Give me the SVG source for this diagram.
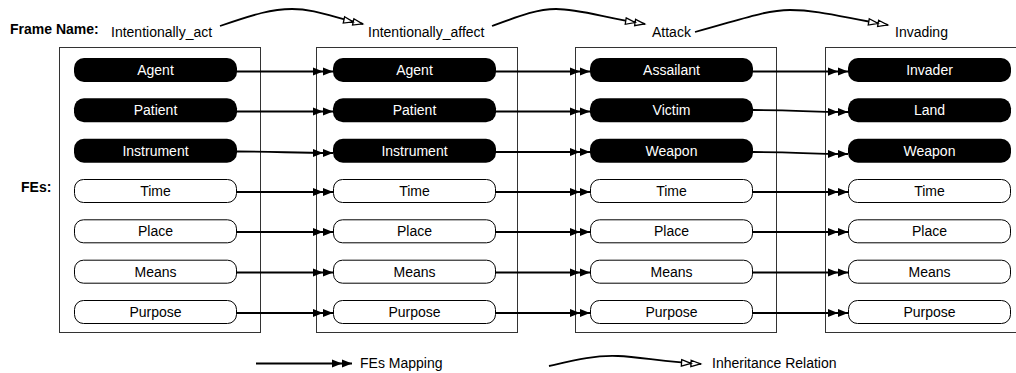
<svg xmlns="http://www.w3.org/2000/svg" width="1016" height="373" viewBox="0 0 1016 373">
  <style>
    text { font-family: "Liberation Sans", Arial, Helvetica, sans-serif; font-size: 14px; fill: #000; }
    .bold { font-weight: bold; }
    .frame { fill: none; stroke: #333; stroke-width: 1; }
    .core { fill: #000; }
    .core-label { fill: #fff; text-anchor: middle; }
    .plain { fill: #fff; stroke: #000; stroke-width: 1; }
    .plain-label { text-anchor: middle; }
    .map { fill: none; stroke: #000; stroke-width: 1.8; marker-end: url(#dblFilled); }
    .inherit { fill: none; stroke: #000; stroke-width: 1.8; marker-end: url(#dblOpen); }
  </style>
  <defs>
    <marker id="dblFilled" markerUnits="userSpaceOnUse" viewBox="0 0 20 8" markerWidth="20" markerHeight="8" refX="20" refY="4" orient="auto" overflow="visible">
      <path d="M0,0 L10,4 L0,8 Z M10,0 L20,4 L10,8 Z" fill="#000"/>
    </marker>
    <marker id="dblOpen" markerUnits="userSpaceOnUse" viewBox="0 0 20 8" markerWidth="20" markerHeight="8" refX="20" refY="4" orient="auto" overflow="visible">
      <path d="M0.5,0.8 L10,4 L0.5,7.2 Z M10,0.8 L19.5,4 L10,7.2 Z" fill="#fff" stroke="#000" stroke-width="1.3" stroke-linejoin="miter"/>
    </marker>
  </defs>

  <rect width="1016" height="373" fill="#fff"/>

  <!-- headings -->
  <text class="bold" x="10" y="34">Frame Name:</text>
  <text class="bold" x="21" y="192">FEs:</text>

  <!-- frame: Intentionally_act -->
  <g id="frame-intentionally-act">
    <text x="111" y="37">Intentionally_act</text>
    <rect class="frame" x="59.5" y="47.5" width="201" height="285"/>
    <g id="ia-agent"><rect class="core" x="74" y="58" width="163" height="24" rx="10"/><text class="core-label" x="155.5" y="75">Agent</text></g>
    <g id="ia-patient"><rect class="core" x="74" y="98.3" width="163" height="24" rx="10"/><text class="core-label" x="155.5" y="115.3">Patient</text></g>
    <g id="ia-instrument"><rect class="core" x="74" y="138.7" width="163" height="24" rx="10"/><text class="core-label" x="155.5" y="155.7">Instrument</text></g>
    <g id="ia-time"><rect class="plain" x="74.5" y="179.5" width="162" height="23" rx="9"/><text class="plain-label" x="155.5" y="196">Time</text></g>
    <g id="ia-place"><rect class="plain" x="74.5" y="219.8" width="162" height="23" rx="9"/><text class="plain-label" x="155.5" y="236.3">Place</text></g>
    <g id="ia-means"><rect class="plain" x="74.5" y="260.2" width="162" height="23" rx="9"/><text class="plain-label" x="155.5" y="276.7">Means</text></g>
    <g id="ia-purpose"><rect class="plain" x="74.5" y="300.5" width="162" height="23" rx="9"/><text class="plain-label" x="155.5" y="317">Purpose</text></g>
  </g>

  <!-- frame: Intentionally_affect -->
  <g id="frame-intentionally-affect">
    <text x="368" y="37">Intentionally_affect</text>
    <rect class="frame" x="316.5" y="47.5" width="201" height="285"/>
    <g id="iaf-agent"><rect class="core" x="333" y="58" width="163" height="24" rx="10"/><text class="core-label" x="414.5" y="75">Agent</text></g>
    <g id="iaf-patient"><rect class="core" x="333" y="98.3" width="163" height="24" rx="10"/><text class="core-label" x="414.5" y="115.3">Patient</text></g>
    <g id="iaf-instrument"><rect class="core" x="333" y="138.7" width="163" height="24" rx="10"/><text class="core-label" x="414.5" y="155.7">Instrument</text></g>
    <g id="iaf-time"><rect class="plain" x="333.5" y="179.5" width="162" height="23" rx="9"/><text class="plain-label" x="414.5" y="196">Time</text></g>
    <g id="iaf-place"><rect class="plain" x="333.5" y="219.8" width="162" height="23" rx="9"/><text class="plain-label" x="414.5" y="236.3">Place</text></g>
    <g id="iaf-means"><rect class="plain" x="333.5" y="260.2" width="162" height="23" rx="9"/><text class="plain-label" x="414.5" y="276.7">Means</text></g>
    <g id="iaf-purpose"><rect class="plain" x="333.5" y="300.5" width="162" height="23" rx="9"/><text class="plain-label" x="414.5" y="317">Purpose</text></g>
  </g>

  <!-- frame: Attack -->
  <g id="frame-attack">
    <text x="652" y="37">Attack</text>
    <rect class="frame" x="575.5" y="47.5" width="201" height="285"/>
    <g id="at-assailant"><rect class="core" x="590" y="58" width="163" height="24" rx="10"/><text class="core-label" x="671.5" y="75">Assailant</text></g>
    <g id="at-victim"><rect class="core" x="590" y="98.3" width="163" height="24" rx="10"/><text class="core-label" x="671.5" y="115.3">Victim</text></g>
    <g id="at-weapon"><rect class="core" x="590" y="138.7" width="163" height="24" rx="10"/><text class="core-label" x="671.5" y="155.7">Weapon</text></g>
    <g id="at-time"><rect class="plain" x="590.5" y="179.5" width="162" height="23" rx="9"/><text class="plain-label" x="671.5" y="196">Time</text></g>
    <g id="at-place"><rect class="plain" x="590.5" y="219.8" width="162" height="23" rx="9"/><text class="plain-label" x="671.5" y="236.3">Place</text></g>
    <g id="at-means"><rect class="plain" x="590.5" y="260.2" width="162" height="23" rx="9"/><text class="plain-label" x="671.5" y="276.7">Means</text></g>
    <g id="at-purpose"><rect class="plain" x="590.5" y="300.5" width="162" height="23" rx="9"/><text class="plain-label" x="671.5" y="317">Purpose</text></g>
  </g>

  <!-- frame: Invading -->
  <g id="frame-invading">
    <text x="895" y="37">Invading</text>
    <rect class="frame" x="825.5" y="47.5" width="220" height="285"/>
    <g id="in-invader"><rect class="core" x="848" y="58" width="163" height="24" rx="10"/><text class="core-label" x="929.5" y="75">Invader</text></g>
    <g id="in-land"><rect class="core" x="848" y="98.3" width="163" height="24" rx="10"/><text class="core-label" x="929.5" y="115.3">Land</text></g>
    <g id="in-weapon"><rect class="core" x="848" y="138.7" width="163" height="24" rx="10"/><text class="core-label" x="929.5" y="155.7">Weapon</text></g>
    <g id="in-time"><rect class="plain" x="848.5" y="179.5" width="162" height="23" rx="9"/><text class="plain-label" x="929.5" y="196">Time</text></g>
    <g id="in-place"><rect class="plain" x="848.5" y="219.8" width="162" height="23" rx="9"/><text class="plain-label" x="929.5" y="236.3">Place</text></g>
    <g id="in-means"><rect class="plain" x="848.5" y="260.2" width="162" height="23" rx="9"/><text class="plain-label" x="929.5" y="276.7">Means</text></g>
    <g id="in-purpose"><rect class="plain" x="848.5" y="300.5" width="162" height="23" rx="9"/><text class="plain-label" x="929.5" y="317">Purpose</text></g>
  </g>

  <!-- connectors -->
  <g id="connectors">
    <!-- inheritance between frames -->
    <path class="inherit" d="M220,26 C255,14 272,9 292,9 C315,9 335,18 363,24"/>
    <path class="inherit" d="M492,26 C522,15 538,9 556,9 C580,9 605,18 645,24"/>
    <path class="inherit" d="M695,32 C740,20 765,10 790,10 C820,10 845,18 888,25"/>

    <!-- FE mappings: Intentionally_act -> Intentionally_affect -->
    <path class="map" d="M237,71.5 H333"/>
    <path class="map" d="M237,111.5 H333"/>
    <path class="map" d="M237,151.5 C280,151.5 290,153 333,153"/>
    <path class="map" d="M237,192 H333"/>
    <path class="map" d="M237,232 H333"/>
    <path class="map" d="M237,272.5 H333"/>
    <path class="map" d="M237,313 H333"/>

    <!-- Intentionally_affect -> Attack -->
    <path class="map" d="M496,71.5 H590"/>
    <path class="map" d="M496,111.5 H590"/>
    <path class="map" d="M496,152 H590"/>
    <path class="map" d="M496,192 H590"/>
    <path class="map" d="M496,232 H590"/>
    <path class="map" d="M496,272.5 H590"/>
    <path class="map" d="M496,313 H590"/>

    <!-- Attack -> Invading -->
    <path class="map" d="M753,71.5 H848"/>
    <path class="map" d="M753,110 C800,110 805,112 848,112"/>
    <path class="map" d="M753,152 C800,152 805,154 848,154"/>
    <path class="map" d="M753,192 H848"/>
    <path class="map" d="M753,232 H848"/>
    <path class="map" d="M753,272.5 H848"/>
    <path class="map" d="M753,313 H848"/>
  </g>

  <!-- legend -->
  <g id="legend">
    <path class="map" d="M256,363.5 H352"/>
    <text x="360" y="368">FEs Mapping</text>
    <path class="inherit" d="M549,366 C575,360 595,355 618,356 C640,357 665,362 701,364"/>
    <text x="712" y="368">Inheritance Relation</text>
  </g>
</svg>
